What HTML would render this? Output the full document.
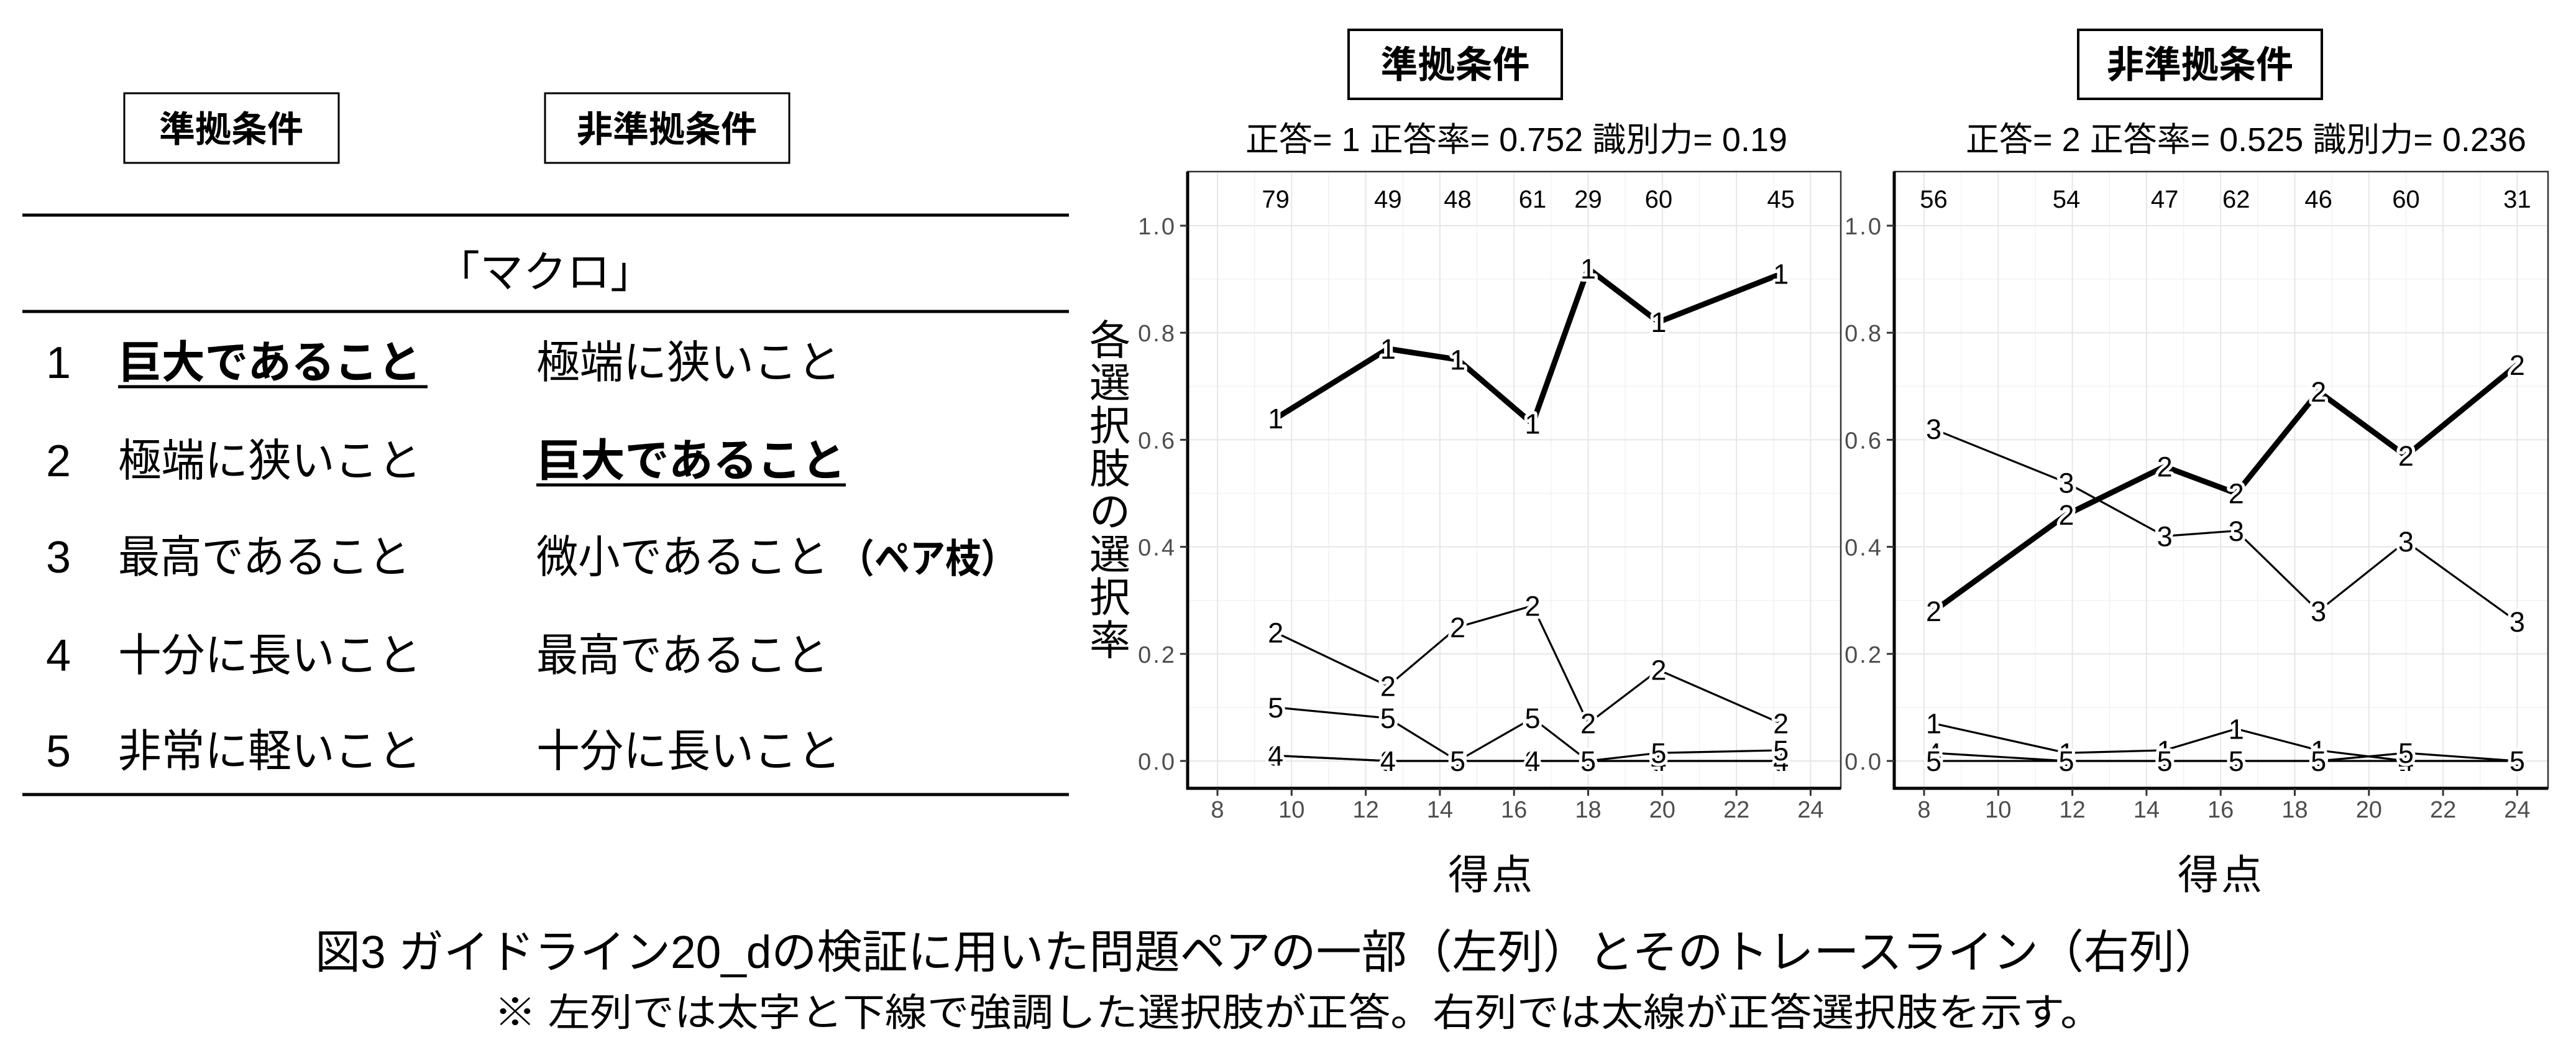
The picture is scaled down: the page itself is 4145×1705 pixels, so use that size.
<!DOCTYPE html>
<html><head><meta charset="utf-8"><style>
html,body{margin:0;padding:0;background:#fff;}
svg{display:block;font-family:"Liberation Sans","Noto Sans CJK JP",sans-serif;}
</style></head><body>
<svg id="fig" width="4145" height="1705" viewBox="0 0 4145 1705" xmlns="http://www.w3.org/2000/svg">
<rect x="0" y="0" width="4145" height="1705" fill="#fff"/>
<g>
  <rect x="200" y="150" width="345" height="112" fill="none" stroke="#000" stroke-width="3"/>
  <text x="372" y="228" font-size="58" font-weight="bold" text-anchor="middle">準拠条件</text>
  <rect x="877" y="150" width="393" height="112" fill="none" stroke="#000" stroke-width="3"/>
  <text x="1073" y="228" font-size="58" font-weight="bold" text-anchor="middle">非準拠条件</text>
  <line x1="36" y1="346" x2="1720" y2="346" stroke="#000" stroke-width="5"/>
  <text x="877" y="462" font-size="70" text-anchor="middle">「マクロ」</text>
  <line x1="36" y1="501" x2="1720" y2="501" stroke="#000" stroke-width="5"/>
  <g font-size="72">
    <text x="94" y="608" text-anchor="middle">1</text>
    <text x="190" y="608" font-weight="bold" textLength="488" lengthAdjust="spacingAndGlyphs">巨大であること</text>
    <line x1="190" y1="622" x2="688" y2="622" stroke="#000" stroke-width="5"/>
    <text x="863" y="608" textLength="490" lengthAdjust="spacingAndGlyphs">極端に狭いこと</text>
    <text x="94" y="766" text-anchor="middle">2</text>
    <text x="190" y="766" textLength="488" lengthAdjust="spacingAndGlyphs">極端に狭いこと</text>
    <text x="863" y="766" font-weight="bold" textLength="498" lengthAdjust="spacingAndGlyphs">巨大であること</text>
    <line x1="863" y1="780" x2="1361" y2="780" stroke="#000" stroke-width="5"/>
    <text x="94" y="921" text-anchor="middle">3</text>
    <text x="190" y="921" textLength="470" lengthAdjust="spacingAndGlyphs">最高であること</text>
    <text x="863" y="921" textLength="470" lengthAdjust="spacingAndGlyphs">微小であること</text>
    <text x="1350" y="921" font-weight="bold" font-size="64" textLength="285" lengthAdjust="spacingAndGlyphs">（ペア枝）</text>
    <text x="94" y="1079" text-anchor="middle">4</text>
    <text x="190" y="1079" textLength="488" lengthAdjust="spacingAndGlyphs">十分に長いこと</text>
    <text x="863" y="1079" textLength="470" lengthAdjust="spacingAndGlyphs">最高であること</text>
    <text x="94" y="1233" text-anchor="middle">5</text>
    <text x="190" y="1233" textLength="488" lengthAdjust="spacingAndGlyphs">非常に軽いこと</text>
    <text x="863" y="1233" textLength="490" lengthAdjust="spacingAndGlyphs">十分に長いこと</text>
  </g>
  <line x1="36" y1="1278" x2="1720" y2="1278" stroke="#000" stroke-width="5"/>
</g>
<g font-size="66" text-anchor="middle">
  <text x="1786" y="570">各</text><text x="1786" y="639">選</text><text x="1786" y="708">択</text><text x="1786" y="777">肢</text><text x="1786" y="846">の</text><text x="1786" y="915">選</text><text x="1786" y="984">択</text><text x="1786" y="1053">率</text>
</g>
<g id="panels"></g>
<text x="507" y="1557" font-size="74" textLength="3065" lengthAdjust="spacingAndGlyphs">図3  ガイドライン20_dの検証に用いた問題ペアの一部（左列）とそのトレースライン（右列）</text>
<text x="795" y="1650" font-size="62" textLength="2588" lengthAdjust="spacingAndGlyphs">※ 左列では太字と下線で強調した選択肢が正答。右列では太線が正答選択肢を示す。</text>
</svg>
<script>
const leftScores = [9.57, 12.6, 14.48, 16.5, 18.0, 19.9, 23.2];
const leftCounts = ["79", "49", "48", "61", "29", "60", "45"];
const leftOpt1 = [0.64, 0.77, 0.75, 0.63, 0.92, 0.82, 0.91];
const leftOpt2 = [0.24, 0.14, 0.25, 0.29, 0.07, 0.17, 0.07];
const leftOpt3 = [0.01, 0, 0, 0, 0, 0, 0];
const leftOpt4 = [0.01, 0, 0, 0, 0, 0, 0];
const leftOpt5 = [0.10, 0.08, 0, 0.08, 0, 0.015, 0.02];
const rightScores = [8.26, 11.84, 14.49, 16.42, 18.64, 21.0, 24.0];
const rightCounts = ["56", "54", "47", "62", "46", "60", "31"];
const rightOpt1 = [0.07, 0.015, 0.02, 0.06, 0.02, 0, 0];
const rightOpt2 = [0.28, 0.46, 0.55, 0.50, 0.69, 0.57, 0.74];
const rightOpt3 = [0.62, 0.52, 0.42, 0.43, 0.28, 0.41, 0.26];
const rightOpt4 = [0.015, 0, 0, 0, 0, 0, 0];
const rightOpt5 = [0, 0, 0, 0, 0, 0.015, 0];
const xTicks = [8, 10, 12, 14, 16, 18, 20, 22, 24];
const yTicks = [0, 0.2, 0.4, 0.6, 0.8, 1.0];
const yTickLabels = ["0.0", "0.2", "0.4", "0.6", "0.8", "1.0"];

const NS = "http://www.w3.org/2000/svg";
const root = document.getElementById("panels");
function mk(tag, attrs, parent) {
  const e = document.createElementNS(NS, tag);
  for (const k in attrs) e.setAttribute(k, attrs[k]);
  parent.appendChild(e);
  return e;
}
function drawPanel(cfg) {
  const g = mk("g", {}, root);
  
  
  const L = cfg.left, R = cfg.right, T = 276, B = 1268;
  const xs = v => cfg.x8 + (v - 8) * 59.65;
  const ys = v => 1224 - v * 861;
  for (let v = 9; v <= 25; v += 2) { const x = xs(v); if (x > L && x < R) mk("line", {x1:x, y1:T, x2:x, y2:B, stroke:"#f2f2f2", "stroke-width":1.5}, g); }
  for (let v = 0.1; v < 1.1; v += 0.2) mk("line", {x1:L, y1:ys(v), x2:R, y2:ys(v), stroke:"#f2f2f2", "stroke-width":1.5}, g);
  for (const v of xTicks) mk("line", {x1:xs(v), y1:T, x2:xs(v), y2:B, stroke:"#e6e6e6", "stroke-width":2}, g);
  for (const v of yTicks) mk("line", {x1:L, y1:ys(v), x2:R, y2:ys(v), stroke:"#e6e6e6", "stroke-width":2}, g);
  mk("rect", {x:L, y:T, width:R-L, height:B-T, fill:"none", stroke:"#333", "stroke-width":2.5}, g);
  mk("line", {x1:L, y1:T, x2:L, y2:B+2, stroke:"#000", "stroke-width":5}, g);
  mk("line", {x1:L-2, y1:B, x2:R, y2:B, stroke:"#000", "stroke-width":5}, g);
  xTicks.forEach(v => {
    mk("line", {x1:xs(v), y1:B, x2:xs(v), y2:B+12, stroke:"#333", "stroke-width":3}, g);
    const t = mk("text", {x:xs(v), y:B+47, "font-size":38, fill:"#4d4d4d", "text-anchor":"middle"}, g);
    
    
    t.textContent = String(v);
  });
  yTicks.forEach((v, i) => {
    mk("line", {x1:L-12, y1:ys(v), x2:L, y2:ys(v), stroke:"#333", "stroke-width":3}, g);
    const t = mk("text", {x:L-18, y:ys(v)+14, "font-size":38, fill:"#4d4d4d", "text-anchor":"end", "letter-spacing":"3"}, g);
    
    
    t.textContent = yTickLabels[i];
  });
  cfg.scores.forEach((s, i) => {
    const t = mk("text", {x:xs(s), y:334, "font-size":40, "text-anchor":"middle"}, g);
    
    
    t.textContent = cfg.counts[i];
  });
  cfg.series.forEach((vals, k) => {
    const opt = k + 1, thick = opt === cfg.correct;
    const sg = mk("g", {}, g);
    
    
    const pts = cfg.scores.map((s, i) => xs(s).toFixed(1) + "," + ys(vals[i]).toFixed(1)).join(" ");
    mk("polyline", {points:pts, fill:"none", stroke:"#000", "stroke-width":thick ? 9 : 3.2, "stroke-linejoin":"round"}, sg);
  });
  cfg.series.forEach((vals, k) => {
    const opt = k + 1;
    cfg.scores.forEach((s, i) => {
      const t = mk("text", {x:xs(s), y:ys(vals[i])+16, "font-size":45, "text-anchor":"middle", stroke:"#fff", "stroke-width":10, "paint-order":"stroke", "stroke-linejoin":"round"}, g);
      
      
      t.textContent = String(opt);
    });
  });
  const bx = mk("rect", {x:cfg.boxL, y:48, width:cfg.boxW, height:111, fill:"none", stroke:"#000", "stroke-width":4}, g);
  
  
  const bt = mk("text", {x:cfg.boxL + cfg.boxW/2, y:125, "font-size":60, "font-weight":"bold", "text-anchor":"middle"}, g);
  
  
  bt.textContent = cfg.cond;
  const st = mk("text", {x:cfg.titleX, y:243, "font-size":54, "text-anchor":"middle"}, g);
  
  
  st.textContent = cfg.title;
  const xt = mk("text", {x:cfg.titleX - 40, y:1430, "font-size":66, "text-anchor":"middle", "letter-spacing":"4"}, g);
  
  
  xt.textContent = "得点";
}
drawPanel({name:"panel-criterion", left:1911, right:2962, x8:1959, scores:leftScores, counts:leftCounts,
  series:[leftOpt1,leftOpt2,leftOpt3,leftOpt4,leftOpt5], correct:1, boxL:2170, boxW:343, cond:"準拠条件",
  title:"正答= 1 正答率= 0.752 識別力= 0.19", titleX:2440});
drawPanel({name:"panel-noncriterion", left:3048, right:4100, x8:3096, scores:rightScores, counts:rightCounts,
  series:[rightOpt1,rightOpt2,rightOpt3,rightOpt4,rightOpt5], correct:2, boxL:3344, boxW:392, cond:"非準拠条件",
  title:"正答= 2 正答率= 0.525 識別力= 0.236", titleX:3614});
</script>
</body></html>
